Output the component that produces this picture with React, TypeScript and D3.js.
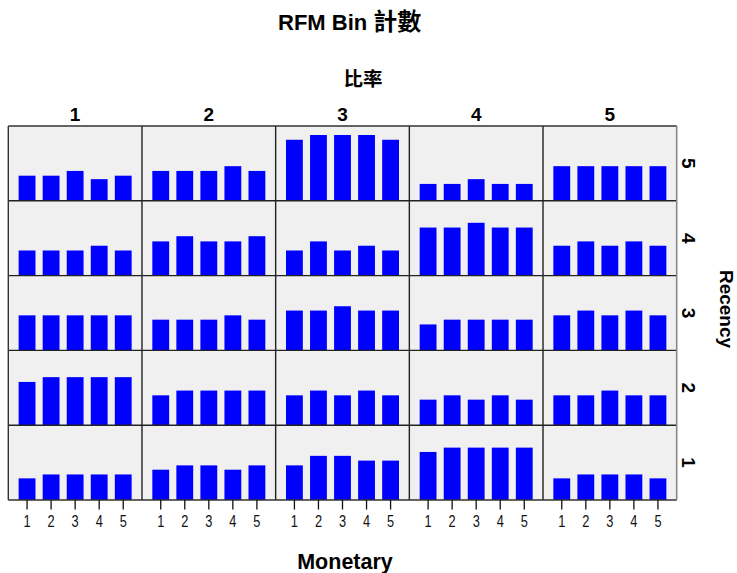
import React from "react";
import * as d3 from "d3";

// Facet categories
const frequencyCols = ["1", "2", "3", "4", "5"];
const recencyRows = ["5", "4", "3", "2", "1"];
const monetaryBins = ["1", "2", "3", "4", "5"];

// 比率 (%) per Recency row: [frequency col][monetary bin]
const recency5 = [
  [0.58, 0.58, 0.69, 0.5, 0.58],
  [0.69, 0.69, 0.69, 0.8, 0.69],
  [1.41, 1.52, 1.52, 1.52, 1.41],
  [0.39, 0.39, 0.5, 0.39, 0.39],
  [0.8, 0.8, 0.8, 0.8, 0.8],
];
const recency4 = [
  [0.58, 0.58, 0.58, 0.69, 0.58],
  [0.79, 0.91, 0.79, 0.79, 0.91],
  [0.58, 0.79, 0.58, 0.69, 0.58],
  [1.11, 1.11, 1.22, 1.11, 1.11],
  [0.69, 0.79, 0.69, 0.79, 0.69],
];
const recency3 = [
  [0.81, 0.81, 0.81, 0.81, 0.81],
  [0.71, 0.71, 0.71, 0.81, 0.71],
  [0.92, 0.92, 1.02, 0.92, 0.92],
  [0.6, 0.71, 0.71, 0.71, 0.71],
  [0.81, 0.92, 0.81, 0.92, 0.81],
];
const recency2 = [
  [1.0, 1.11, 1.11, 1.11, 1.11],
  [0.69, 0.8, 0.8, 0.8, 0.8],
  [0.69, 0.8, 0.69, 0.8, 0.69],
  [0.59, 0.69, 0.59, 0.69, 0.59],
  [0.69, 0.69, 0.8, 0.69, 0.69],
];
const recency1 = [
  [0.5, 0.59, 0.59, 0.59, 0.59],
  [0.7, 0.8, 0.8, 0.7, 0.8],
  [0.8, 1.02, 1.02, 0.91, 0.91],
  [1.11, 1.21, 1.21, 1.21, 1.21],
  [0.5, 0.59, 0.59, 0.59, 0.5],
];
const rowValues: Record<string, number[][]> = {
  "5": recency5,
  "4": recency4,
  "3": recency3,
  "2": recency2,
  "1": recency1,
};
const yMax = 1.728;

const titleLatin = "RFM Bin ";
const titleCjk = "計數";
const subTitleText = "比率";
const rowTitle = "Recency";
const xTitle = "Monetary";

const W = 737;
const H = 573;
const gLeft = 8.3;
const gRight = 676.7;
const gTop = 126;
const gBottom = 500;

const latin = "'Liberation Sans', Arial, 'Noto Sans CJK TC', sans-serif";
const cjk = "'Noto Sans CJK TC', sans-serif";

export default function App() {
  const colScale = d3.scaleBand<string>().domain(frequencyCols).range([gLeft, gRight]);
  const rowScale = d3.scaleBand<string>().domain(recencyRows).range([gTop, gBottom]);
  const pw = colScale.bandwidth();
  const ph = rowScale.bandwidth();
  const xInner = d3
    .scaleBand<string>()
    .domain(monetaryBins)
    .range([0, pw])
    .paddingInner(0.3)
    .paddingOuter(0.43);
  const yInner = d3.scaleLinear().domain([0, yMax]).range([ph, 0]);

  return (
    <svg
      width={W}
      height={H}
      style={{ position: "absolute", left: 0, top: 0, background: "#fff" }}
    >
      {/* titles */}
      <text x={278} y={29.5} fontFamily={latin} fontWeight="bold" fontSize={22} fill="#000">
        {titleLatin}
        <tspan fontFamily={cjk} fontSize={24}>{titleCjk}</tspan>
      </text>
      <text x={363} y={86} textAnchor="middle" fontFamily={cjk} fontWeight="bold" fontSize={19.5} fill="#000">
        {subTitleText}
      </text>

      {/* column headers */}
      {frequencyCols.map((c) => (
        <text key={"ch" + c} x={(colScale(c) as number) + pw / 2} y={120.5} textAnchor="middle" fontFamily={latin} fontWeight="bold" fontSize={19}>
          {c}
        </text>
      ))}

      {/* panels */}
      {recencyRows.map((r) =>
        frequencyCols.map((c, ci) => {
          const px = colScale(c) as number;
          const py = rowScale(r) as number;
          const vals = rowValues[r][ci];
          return (
            <g key={r + "-" + c} transform={`translate(${px},${py})`}>
              <rect x={0} y={0} width={pw} height={ph} fill="#f0f0f0" />
              {monetaryBins.map((m, mi) => (
                <rect
                  key={m}
                  x={xInner(m) as number}
                  y={yInner(vals[mi])}
                  width={xInner.bandwidth()}
                  height={ph - yInner(vals[mi])}
                  fill="#0000ff"
                />
              ))}
            </g>
          );
        })
      )}

      {/* grid lines */}
      {recencyRows.slice(1).map((r) => (
        <line key={"hl" + r} x1={gLeft} x2={gRight} y1={rowScale(r)} y2={rowScale(r)} stroke="#222" strokeWidth={1.4} />
      ))}
      {frequencyCols.slice(1).map((c) => (
        <line key={"vl" + c} x1={colScale(c)} x2={colScale(c)} y1={gTop} y2={gBottom} stroke="#222" strokeWidth={1.4} />
      ))}
      <line x1={gLeft} x2={gRight} y1={gTop} y2={gTop} stroke="#333" strokeWidth={1.4} />
      <line x1={gLeft} x2={gRight} y1={gBottom} y2={gBottom} stroke="#333" strokeWidth={1.4} />
      <line x1={gLeft} x2={gLeft} y1={gTop} y2={gBottom} stroke="#333" strokeWidth={1.4} />
      <line x1={gRight} x2={gRight} y1={gTop} y2={gBottom} stroke="#888" strokeWidth={1.6} />

      {/* row labels */}
      {recencyRows.map((r) => (
        <text
          key={"rl" + r}
          transform={`translate(682,${(rowScale(r) as number) + ph / 2}) rotate(90)`}
          textAnchor="middle"
          fontFamily={latin}
          fontWeight="bold"
          fontSize={19}
        >
          {r}
        </text>
      ))}
      <text transform={`translate(719.5,309) rotate(90)`} textAnchor="middle" fontFamily={latin} fontWeight="bold" fontSize={19}>
        {rowTitle}
      </text>

      {/* x ticks */}
      {frequencyCols.map((c) =>
        monetaryBins.map((m) => {
          const x = (colScale(c) as number) + (xInner(m) as number) + xInner.bandwidth() / 2;
          return (
            <g key={"t" + c + m}>
              <line x1={x} x2={x} y1={gBottom} y2={gBottom + 9.5} stroke="#111" strokeWidth={1.3} />
              <text
                transform={`translate(${x},526.5) scale(0.8,1)`}
                textAnchor="middle"
                fontFamily={latin}
                fontSize={16}
                fill="#111"
              >
                {m}
              </text>
            </g>
          );
        })
      )}
      <text x={345} y={569} textAnchor="middle" fontFamily={latin} fontWeight="bold" fontSize={21.5}>
        {xTitle}
      </text>
    </svg>
  );
}
